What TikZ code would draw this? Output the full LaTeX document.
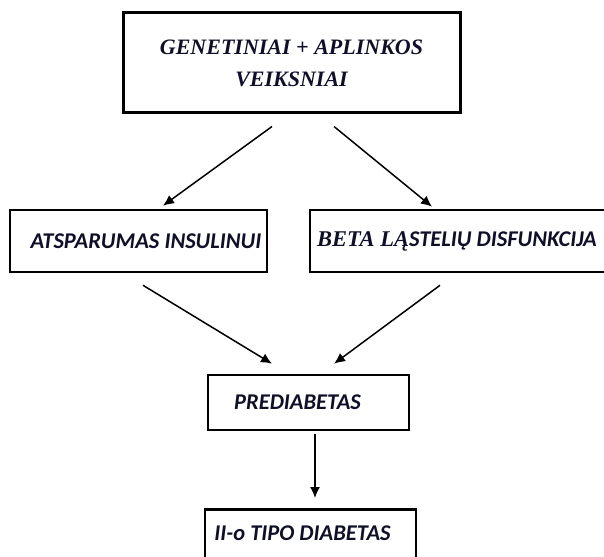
\documentclass[tikz,border=0pt]{standalone}
\usepackage{fontspec}
\usetikzlibrary{calc,arrows.meta}
\newfontfamily\sansbi{Carlito}[UprightFont=*-BoldItalic]
\newfontfamily\serifbi{Liberation Serif}[UprightFont=* Bold Italic]
\definecolor{txtcol}{RGB}{15,15,40}

\begin{document}
\begin{tikzpicture}[x=1bp,y=-1bp,
    box/.style={draw, line width=2.6bp, inner sep=0pt, text=txtcol, align=center},
    lbl/.style={font=\sansbi\fontsize{22.5bp}{26bp}\selectfont},
    arr/.style={line width=1.5bp, -{Latex[length=11bp,width=10bp]}}]
    \useasboundingbox (0,0) rectangle (604,557);

    \node[box, minimum width=337bp, minimum height=100bp, line width=3bp,
          font=\serifbi\fontsize{22bp}{32bp}\selectfont] (gen) at (291.5,63)
          {GENETINIAI + APLINKOS\\VEIKSNIAI};
    \node[box, lbl, minimum width=257bp, minimum height=62bp] (ins) at (138.5,241)
          {\hspace*{15bp}ATSPARUMAS INSULINUI};
    \node[box, lbl, minimum width=302bp, minimum height=62bp] (beta) at (461,241)
          {{\serifbi BETA LĄ}STELIŲ DISFUNKCIJA\hspace*{8bp}};
    \node[box, lbl, minimum width=201bp, minimum height=55bp] (pre) at (308.5,402.5)
          {PREDIABETAS\hspace*{22bp}};
    \node[box, lbl, anchor=north, minimum width=211bp, inner ysep=5bp,
          text height=26bp, text depth=21bp] (t2) at (310.5,508)
          {II-o TIPO DIABETAS\hspace*{16bp}};

    \draw[arr] ($(gen.south)+(-19.5,12)$) -- ($(ins.north)+(24.5,-3)$);
    \draw[arr] ($(gen.south)+(42.5,12)$) -- ($(beta.north)+(-29,-2)$);
    \draw[arr] ($(ins.south)+(4.5,12)$) -- ($(pre.north)+(-36.5,-10)$);
    \draw[arr] ($(beta.south)+(-21,12)$) -- ($(pre.north)+(25.5,-10)$);
    \draw[arr] ($(pre.south)+(6.5,3)$) -- ($(t2.north)+(4.5,-10)$);

\end{tikzpicture}
\end{document}
